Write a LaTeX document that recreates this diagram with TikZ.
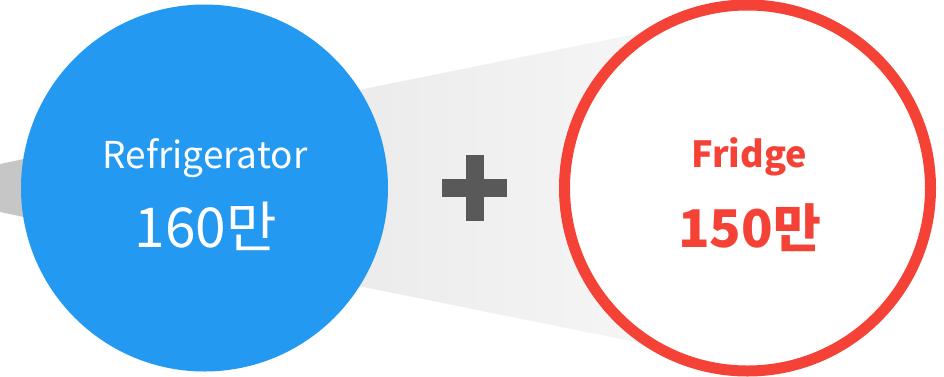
\documentclass[tikz,border=0pt]{standalone}
\usepackage{fontspec}
\newfontfamily\kr{Noto Sans CJK KR}
\usetikzlibrary{shadings}
\definecolor{cblue}{HTML}{2399F2}
\definecolor{cred}{HTML}{F44336}
\definecolor{cplus}{HTML}{595959}
\definecolor{cwedge}{HTML}{C6C6C6}
\definecolor{cgl}{HTML}{E6E6E6}
\definecolor{cgr}{HTML}{F8F8F8}
\tikzset{
  lbl/.style={font=\kr\fontsize{37}{37}\selectfont, anchor=base, inner sep=0pt},
  num/.style={font=\kr\fontsize{55}{55}\selectfont, anchor=base, inner sep=0pt},
  plusbar/.style={fill=cplus, draw=none},
}
\begin{document}
\begin{tikzpicture}[x=1pt,y=-1pt]
\useasboundingbox (0,0) rectangle (944,376);
% left wedge
\fill[cwedge] (0,164) -- (205,121) -- (205,255) -- (0,212) -- cycle;
% gradient cone
\shade[left color=cgl, right color=cgr] (205,121) -- (720,17) -- (720,359) -- (205,255) -- cycle;
% circles
\node[circle, fill=cblue, draw=none, minimum size=367pt, inner sep=0pt] (ref) at (204.5,188) {};
\node[circle, fill=white, draw=cred, line width=11pt, minimum size=366pt, inner sep=0pt, outer sep=0pt] (fr) at (747.5,188) {};
% plus
\fill[plusbar] (466,155) rectangle (484,221);
\fill[plusbar] (442,179) rectangle (507,197);
% texts
\node[lbl, text=white] (reft) at (205,168) {Refrigerator};
\node[num, text=white] (refn) at (206,247) {160만};
\node[lbl, text=cred, font=\kr\bfseries\fontsize{36}{36}\selectfont] (frt) at (749,167) {Fridge};
\node[num, text=cred, font=\kr\bfseries\fontsize{52}{52}\selectfont] (frn) at (749.5,247) {150만};
\end{tikzpicture}
\end{document}
